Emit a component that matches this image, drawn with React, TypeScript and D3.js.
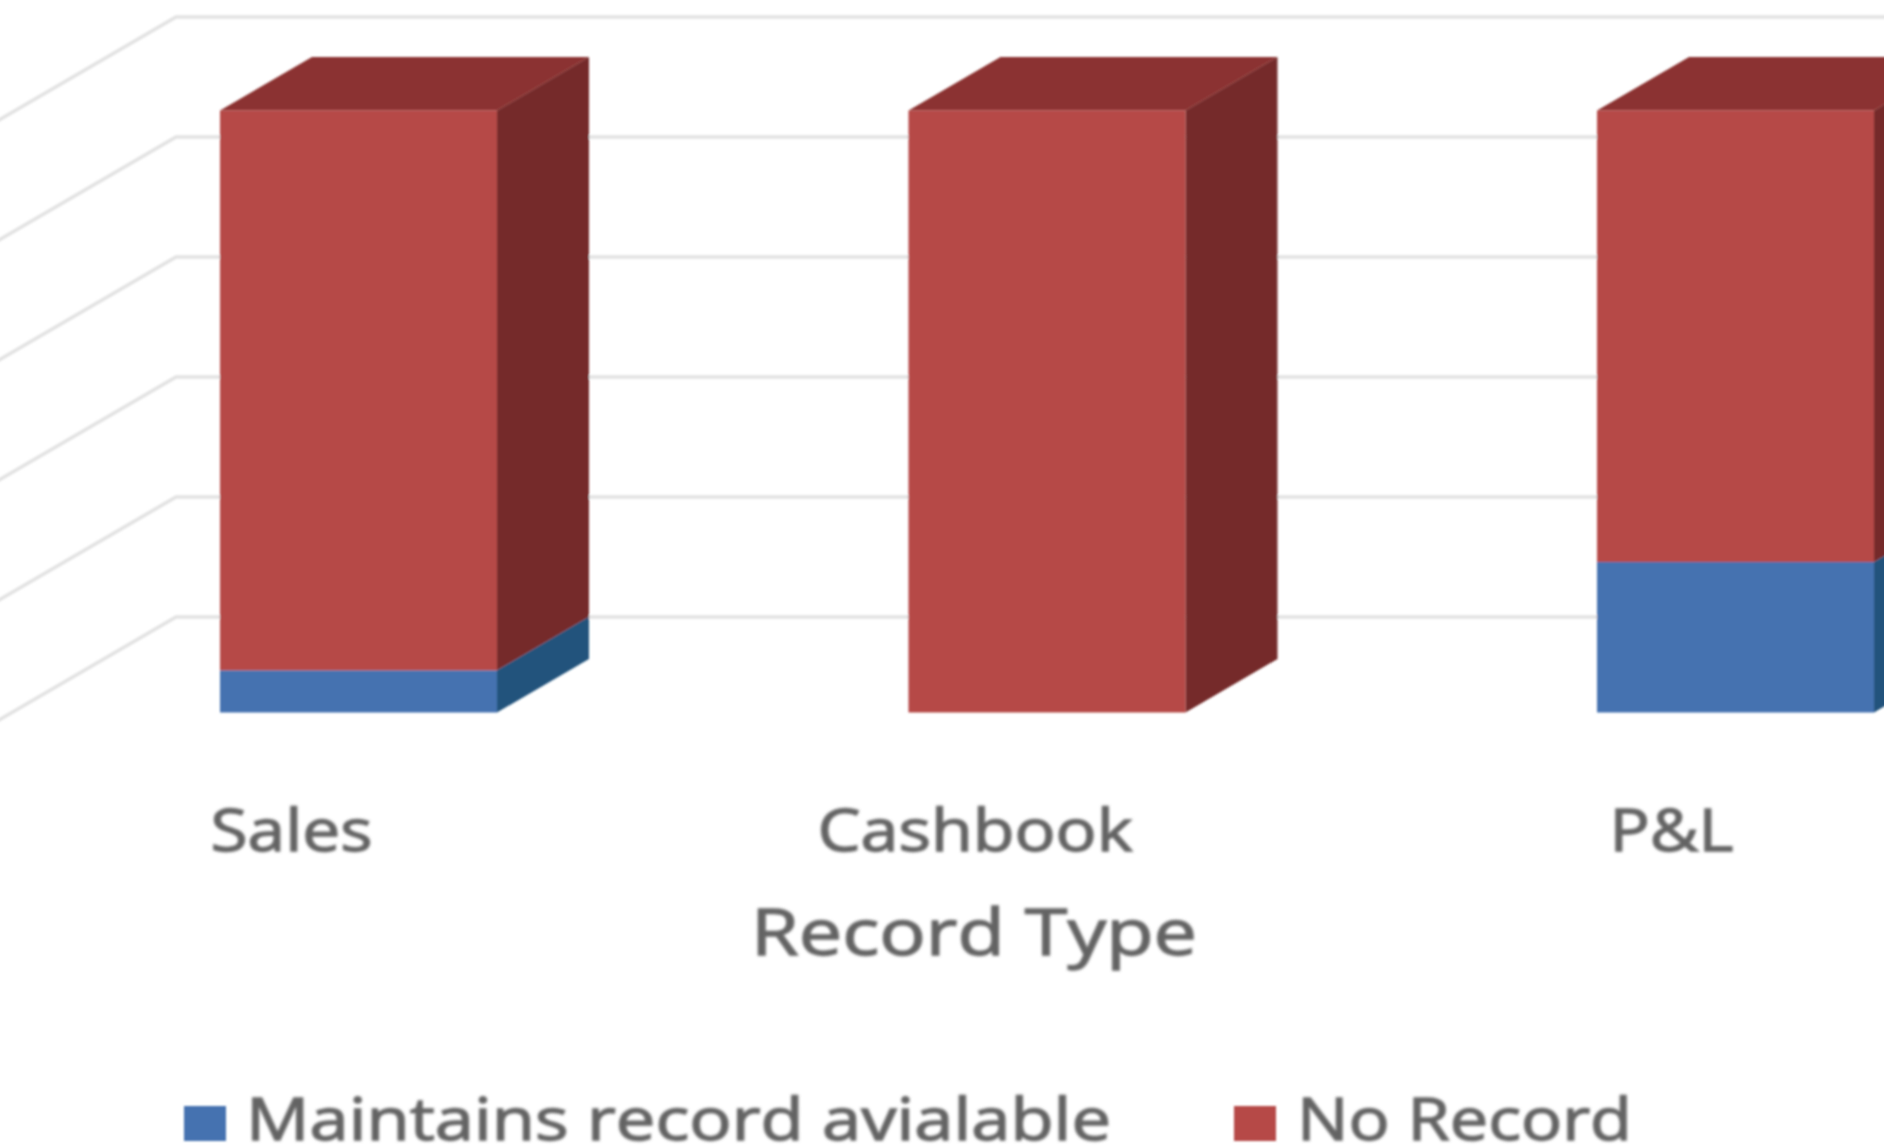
import React, { useEffect, useRef } from "react";
import * as d3 from "d3";

const categories = ["Sales", "Cashbook", "P&L"];
const maintainsRecord = [7, 0, 25];
const noRecord = [93, 100, 75];
const gridTicks = [0, 20, 40, 60, 80, 100];
const seriesNames = ["Maintains record avialable", "No Record"];
const xAxisTitle = "Record Type";

const frontColors = ["#4472b0", "#b64a47"];
const topColors = ["#2f5580", "#8b3230"];
const sideColors = ["#24527c", "#742b29"];
const textColor = "#646464";
const gridColor = "#e2e2e2";

const width = 1884;
const height = 1146;
const depthX = 92;
const depthY = 53.5;

const App: React.FC = () => {
  const svgRef = useRef<SVGSVGElement | null>(null);

  useEffect(() => {
    const svg = d3.select(svgRef.current);
    svg.selectAll("*").remove();

    const defs = svg.append("defs");
    defs
      .append("filter")
      .attr("id", "soft")
      .attr("x", "-5%")
      .attr("y", "-5%")
      .attr("width", "110%")
      .attr("height", "110%")
      .append("feGaussianBlur")
      .attr("stdDeviation", 1.2);
    defs
      .append("filter")
      .attr("id", "softText")
      .attr("x", "-5%")
      .attr("y", "-5%")
      .attr("width", "110%")
      .attr("height", "110%")
      .append("feGaussianBlur")
      .attr("stdDeviation", 1.8);

    const root = svg.append("g").attr("filter", "url(#soft)");
    const textRoot = svg
      .append("g")
      .attr("filter", "url(#softText)")
      .attr("stroke", textColor)
      .attr("stroke-width", 1.3);

    const xScale = d3
      .scaleBand<string>()
      .domain(categories)
      .range([220, 1874])
      .paddingInner(0.5977)
      .paddingOuter(0);

    const yScale = d3.scaleLinear().domain([0, 100]).range([712.5, 110.5]);
    const wallScale = d3.scaleLinear().domain([0, 100]).range([617, 17]);

    const wallCorner = 176;
    const line = d3.line();

    // back wall and left wall gridlines
    const grid = root.append("g");
    gridTicks.forEach((t) => {
      const y = wallScale(t);
      grid
        .append("path")
        .attr("d", line([[-10, y + (wallCorner + 10) * (depthY / depthX)], [wallCorner, y], [width + 10, y]]))
        .attr("fill", "none")
        .attr("stroke", gridColor)
        .attr("stroke-width", 3.5);
    });

    const rows = categories.map((c, i) => ({
      category: c,
      maintains: maintainsRecord[i],
      none: noRecord[i],
    }));
    const stacked = d3.stack<any>().keys(["maintains", "none"])(rows);

    const barWidth = xScale.bandwidth();
    stacked.forEach((layer, s) => {
      const g = root.append("g");
      layer.forEach((d) => {
        const x0 = xScale(d.data.category) as number;
        const x1 = x0 + barWidth;
        const yBottom = yScale(d[0]);
        const yTop = yScale(d[1]);
        if (yBottom - yTop <= 0) return;

        // right side
        g.append("path")
          .attr(
            "d",
            line([
              [x1, yTop],
              [x1 + depthX, yTop - depthY],
              [x1 + depthX, yBottom - depthY],
              [x1, yBottom],
            ]) + "Z"
          )
          .attr("fill", sideColors[s]);

        // top, only seen on the upper series
        if (s === stacked.length - 1) {
          g.append("path")
            .attr(
              "d",
              line([
                [x0, yTop],
                [x0 + depthX, yTop - depthY],
                [x1 + depthX, yTop - depthY],
                [x1, yTop],
              ]) + "Z"
            )
            .attr("fill", topColors[s]);
        }

        g.append("rect")
          .attr("x", x0)
          .attr("y", yTop)
          .attr("width", barWidth)
          .attr("height", yBottom - yTop)
          .attr("fill", frontColors[s]);
      });
    });

    const font = "'Open Sans', sans-serif";

    // category labels sit left of the bar fronts, as in the 3D projection
    const labelWidths = [162, 315, 124];
    const labelShift = [-67, -72, -64];
    categories.forEach((c, i) => {
      textRoot
        .append("text")
        .text(c)
        .attr("x", (xScale(c) as number) + barWidth / 2 + labelShift[i])
        .attr("y", 851)
        .attr("text-anchor", "middle")
        .attr("font-family", font)
        .attr("font-size", 58)
        .attr("fill", textColor)
        .attr("textLength", labelWidths[i])
        .attr("lengthAdjust", "spacingAndGlyphs");
    });

    textRoot
      .append("text")
      .text(xAxisTitle)
      .attr("x", 974)
      .attr("y", 955)
      .attr("text-anchor", "middle")
      .attr("font-family", font)
      .attr("font-size", 64)
      .attr("fill", textColor)
      .attr("textLength", 446)
      .attr("lengthAdjust", "spacingAndGlyphs");

    // legend
    const swatchX = [184, 1234];
    const legendTextX = [246, 1297];
    const legendWidths = [865, 335];
    seriesNames.forEach((name, i) => {
      root
        .append("rect")
        .attr("x", swatchX[i])
        .attr("y", 1106)
        .attr("width", 42)
        .attr("height", 35)
        .attr("fill", frontColors[i]);
      textRoot
        .append("text")
        .text(name)
        .attr("x", legendTextX[i])
        .attr("y", 1140)
        .attr("font-family", font)
        .attr("font-size", 58)
        .attr("fill", textColor)
        .attr("textLength", legendWidths[i])
        .attr("lengthAdjust", "spacingAndGlyphs");
    });
  }, []);

  return (
    <svg
      ref={svgRef}
      width={width}
      height={height}
      style={{ position: "absolute", left: 0, top: 0, background: "#ffffff", display: "block" }}
    />
  );
};

export default App;
